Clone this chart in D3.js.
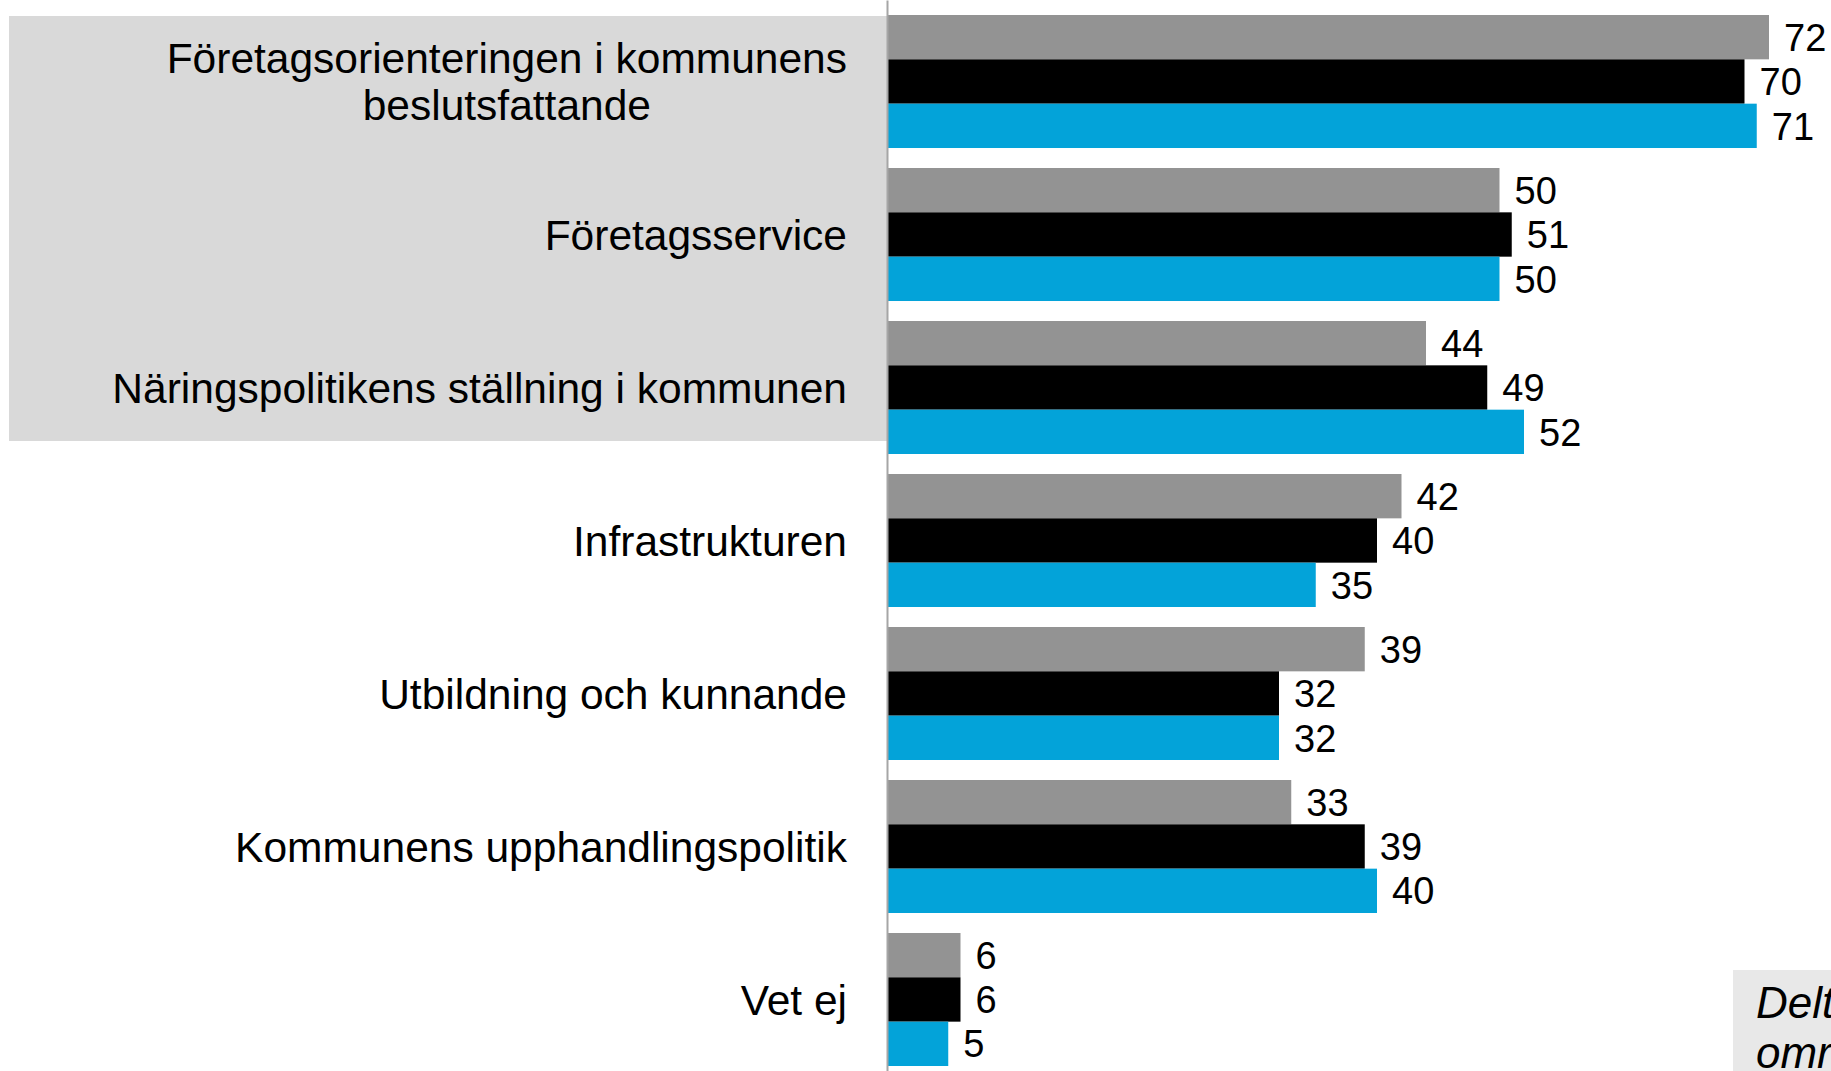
<!DOCTYPE html>
<html>
<head>
<meta charset="utf-8">
<script src="https://cdn.jsdelivr.net/npm/d3@7"></script>
<style>
  body { margin: 0; background: #fff; }
  svg { display: block; font-family: "Liberation Sans", Arial, sans-serif; }
</style>
</head>
<body>
<svg id="chart" width="1831" height="1071"></svg>
<script>
// categories, top to bottom (each entry = lines of the label)
var categories = [
    ["Företagsorienteringen i kommunens", "beslutsfattande"],
    ["Företagsservice"],
    ["Näringspolitikens ställning i kommunen"],
    ["Infrastrukturen"],
    ["Utbildning och kunnande"],
    ["Kommunens upphandlingspolitik"],
    ["Vet ej"]
];

var series_names = ["grey", "black", "blue"];
var series_colors = ["#939393", "#000000", "#03a3d9"];

var grey_values  = [72, 50, 44, 42, 39, 33, 6];
var black_values = [70, 51, 49, 40, 32, 39, 6];
var blue_values  = [71, 50, 52, 35, 32, 40, 5];

var highlighted = 3; // first three categories get the grey background
var note_lines = ["Deltagande", "områden"];

var series_values = [grey_values, black_values, blue_values];

var width = 1831, height = 1071;
var svg = d3.select("#chart");

var cat_keys = categories.map(function(c, i) { return i; });

var y = d3.scaleBand()
    .domain(cat_keys)
    .range([0, height])
    .paddingInner(0.1307)
    .paddingOuter(0.0654)
    .align(0.75);

var y_inner = d3.scaleBand()
    .domain(series_names)
    .range([0, y.bandwidth()]);

var x = d3.scaleLinear()
    .domain([0, 72])
    .range([887, 1769]);

// grey highlight box behind the first labels
svg.append("rect")
    .attr("x", 9)
    .attr("y", 16)
    .attr("width", x(0) - 9)
    .attr("height", y(highlighted - 1) + y.bandwidth() - 14 - 16 + 1)
    .attr("fill", "#d9d9d9");

// bars
var group = svg.selectAll(".group")
    .data(cat_keys)
    .enter().append("g")
    .attr("class", "group")
    .attr("transform", function(i) { return "translate(0," + y(i) + ")"; });

group.each(function(i) {
    var rows = series_names.map(function(name, s) {
        return {name: name, value: series_values[s][i], color: series_colors[s]};
    });
    var g = d3.select(this);

    g.selectAll("rect")
        .data(rows)
        .enter().append("rect")
        .attr("x", x(0))
        .attr("y", function(d) { return y_inner(d.name); })
        .attr("width", function(d) { return x(d.value) - x(0); })
        .attr("height", y_inner.bandwidth())
        .attr("fill", function(d) { return d.color; });

    g.selectAll("text.value")
        .data(rows)
        .enter().append("text")
        .attr("class", "value")
        .attr("x", function(d) { return x(d.value) + 15; })
        .attr("y", function(d) { return y_inner(d.name) + y_inner.bandwidth() / 2; })
        .attr("dy", "0.36em")
        .attr("font-size", 38)
        .attr("fill", "#000")
        .text(function(d) { return d.value; });
});

// vertical axis line
var axis = svg.append("g")
    .attr("transform", "translate(" + x(0) + ",0)")
    .call(d3.axisLeft(y).tickSize(0).tickFormat(""));
axis.select(".domain").attr("stroke", "#a6a6a6").attr("stroke-width", 2);

// category labels, multi-line ones centred on each other
var label_right = 847;
var line_h = 47;
categories.forEach(function(lines, i) {
    var cy = y(i) + y.bandwidth() / 2;
    var t = svg.append("text")
        .attr("font-size", 42.5)
        .attr("fill", "#000")
        .attr("text-anchor", "middle");
    var spans = lines.map(function(line, k) {
        return t.append("tspan")
            .attr("y", cy + (k - (lines.length - 1) / 2) * line_h)
            .attr("dy", "0.36em")
            .text(line);
    });
    var max_w = d3.max(spans, function(s) { return s.node().getComputedTextLength(); });
    spans.forEach(function(s) { s.attr("x", label_right - max_w / 2); });
});

// note box cut off at bottom right
svg.append("rect")
    .attr("x", 1733)
    .attr("y", 970)
    .attr("width", 200)
    .attr("height", 110)
    .attr("fill", "#e8e8e8");

svg.append("text")
    .attr("font-size", 44)
    .attr("font-style", "italic")
    .attr("fill", "#000")
    .selectAll("tspan")
    .data(note_lines)
    .enter().append("tspan")
    .attr("x", 1756)
    .attr("y", function(d, k) { return 1018 + k * 50; })
    .text(function(d) { return d; });
</script>
</body>
</html>
